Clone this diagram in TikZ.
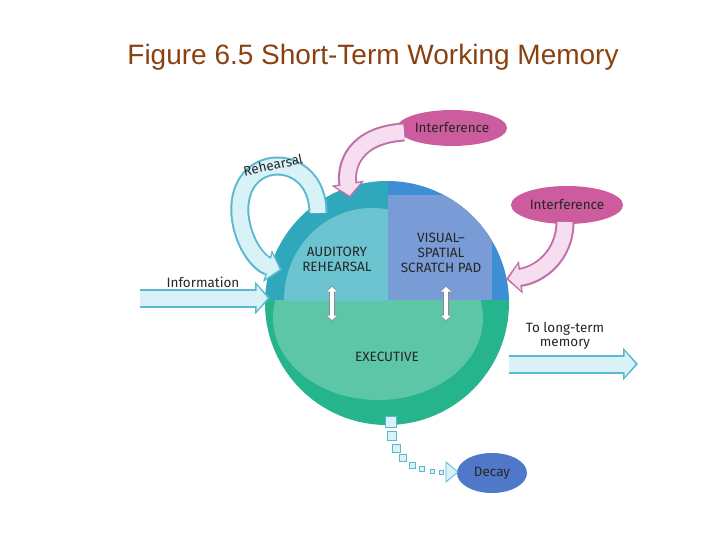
\documentclass[tikz,border=0pt]{standalone}
\usepackage{fontspec}
\setmainfont{Liberation Sans}
\newfontfamily\lab{Fira Sans}
\usetikzlibrary{arrows.meta,shapes.geometric}
\definecolor{titlec}{HTML}{8B4010}
\definecolor{ltcyan}{HTML}{D8F2F8}
\definecolor{cyanb}{HTML}{5BB8D0}
\definecolor{pinkf}{HTML}{F6DDF0}
\definecolor{pinkb}{HTML}{C070A8}
\definecolor{pinkell}{HTML}{CC5C9E}
\definecolor{teal1}{HTML}{2FA8BC}
\definecolor{teal2}{HTML}{6CC4D0}
\definecolor{blue1}{HTML}{3D8ED2}
\definecolor{blue2}{HTML}{7A9CD6}
\definecolor{green1}{HTML}{26B48C}
\definecolor{green2}{HTML}{5CC6A6}
\definecolor{decayc}{HTML}{5078C8}
\tikzset{
 lbl/.style={font=\lab\fontsize{13.5}{15}\selectfont, text=black!85, align=center},
 ell/.style={ellipse, draw=none},
 fatout/.style={line width=19pt, draw=#1, -{Triangle[width=32pt,length=15pt]}},
 fatin/.style={line width=15pt, draw=#1, shorten >=2.5pt, -{Triangle[width=25pt,length=11pt]}},
}
\begin{document}
\begin{tikzpicture}[x=1pt,y=-1pt]
\useasboundingbox (0,0) rectangle (720,540);
\node[font=\fontsize{28}{32}\selectfont, text=titlec] (title) at (373,57) {Figure 6.5 Short-Term Working Memory};

% sphere
\begin{scope}
\clip (387,303) circle (122);
\fill[green1] (260,300) rectangle (515,430);
\fill[teal1] (260,175) rectangle (388,300);
\fill[blue1] (388,175) rectangle (515,300);
\begin{scope}
\clip (260,300) rectangle (515,430);
\fill[green2] (378,318) ellipse (105 and 82);
\end{scope}
\begin{scope}
\clip (260,175) rectangle (388,300);
\fill[teal2] (372,300) ellipse (88 and 92);
\end{scope}
\fill[blue2] (388,195) rectangle (492,300);
\end{scope}
\node[lbl] (aud) at (337,259) {AUDITORY\\REHEARSAL};
\node[lbl] (vis) at (441,253) {VISUAL–\\SPATIAL\\SCRATCH PAD};
\node[lbl] (exe) at (387,357) {EXECUTIVE};
\coordinate (a1) at (332,286); \coordinate (a2) at (332,321);
\coordinate (b1) at (446,286); \coordinate (b2) at (446,321);
\foreach \p/\q in {a1/a2,b1/b2}{
 \draw[line width=6pt, draw=black!45, {Triangle[width=13pt,length=6pt]}-{Triangle[width=13pt,length=6pt]}] (\p) -- (\q);
 \draw[line width=4pt, draw=white, shorten <=1pt, shorten >=1pt, {Triangle[width=10pt,length=4.5pt]}-{Triangle[width=10pt,length=4.5pt]}] (\p) -- (\q);
}

% ellipses
\node[ell, fill=pinkell, minimum width=110pt, minimum height=36pt] (int1) at (452,128) {};
\node[lbl] at (int1) {Interference};
\node[ell, fill=pinkell, minimum width=112pt, minimum height=38pt] (int2) at (567,205) {};
\node[lbl] at (int2) {Interference};
\node[ell, fill=decayc, minimum width=70pt, minimum height=40pt] (decay) at (492,473) {};
\node[lbl] at (decay) {Decay};

% straight arrows
\coordinate (infs) at (140,298); \coordinate (infe) at (270,298);
\draw[fatout=cyanb] (infs) -- (infe);
\draw[fatin=ltcyan] (infs) -- (infe);
\node[lbl] (info) at (203,282) {Information};
\coordinate (lts) at (509,364); \coordinate (lte) at (638,364);
\draw[fatout=cyanb] (lts) -- (lte);
\draw[fatin=ltcyan] (lts) -- (lte);
\node[lbl, font=\lab\fontsize{13.5}{14}\selectfont] (lt) at (565,336) {To long-term\\memory};

% rehearsal
\coordinate (rs) at (318,213); \coordinate (re) at (282,270);
\draw[fatout=cyanb] (rs) .. controls (318,150) and (235,150) .. (240,215) .. controls (243,245) and (260,264) .. (re);
\draw[fatin=ltcyan] (rs) .. controls (318,150) and (235,150) .. (240,215) .. controls (243,245) and (260,264) .. (re);
\node[lbl, rotate=12] (reh) at (273,165) {Rehearsal};

% interference arrows
\coordinate (i1s) at (404,132); \coordinate (i1e) at (350,198);
\draw[fatout=pinkb] (i1s) .. controls (355,135) and (345,165) .. (i1e);
\draw[fatin=pinkf] (i1s) .. controls (355,135) and (345,165) .. (i1e);
\coordinate (i2s) at (565,222); \coordinate (i2e) at (506,279);
\draw[fatout=pinkb] (i2s) .. controls (565,255) and (540,275) .. (i2e);
\draw[fatin=pinkf] (i2s) .. controls (565,255) and (540,275) .. (i2e);

% decay trail
\foreach \x/\y/\s in {391/422/11,392/436/9,396/448/8,403/458/7,412/465/6,422/469/5,432/471/4,441/472/4}
  \draw[cyanb, fill=ltcyan, line width=0.8pt] (\x-\s/2,\y-\s/2) rectangle +(\s,\s);
\draw[cyanb, fill=ltcyan, line width=0.8pt] (446,462) -- (458,472) -- (446,482) -- cycle;
\end{tikzpicture}
\end{document}
